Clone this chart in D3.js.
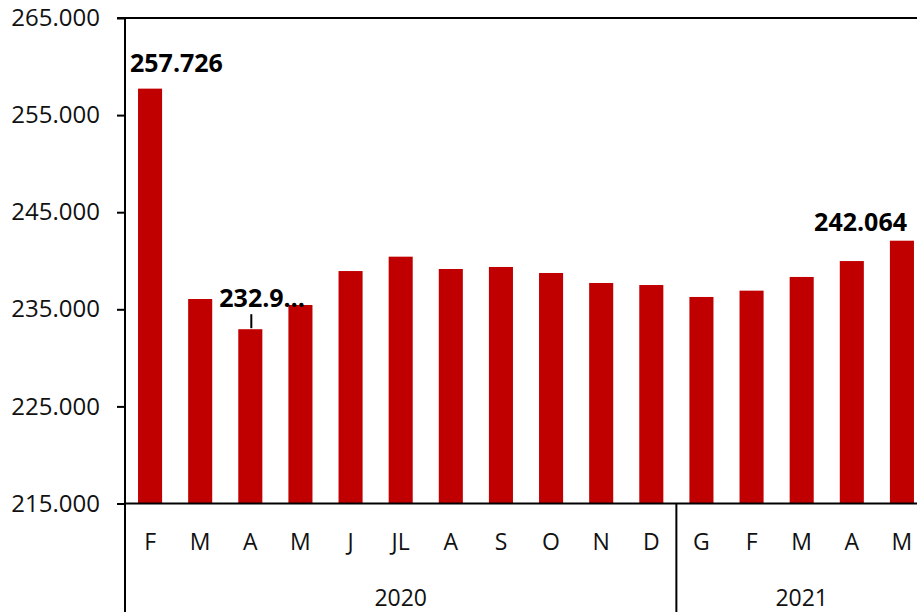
<!DOCTYPE html>
<html>
<meta charset="utf-8">
<title>bars</title>
<style>
html,body{ margin:0; background:#fff; }
svg { display:block; font-family:"Open Sans", sans-serif; }
.bar { fill:#C00000; }
.axisline { stroke:#000; stroke-width:2; fill:none; }
</style>
<script src="https://cdn.jsdelivr.net/npm/d3@7"></script>
<body>
<script>

var months = ["F","M","A","M","J","JL","A","S","O","N","D","G","F","M","A","M"];
var values = [257726,236060,232950,235440,238940,240420,239150,239360,238740,237710,237500,236270,236920,238330,239970,242064];
var years = ["2020","2021"];
var yearCounts = [11,5];
var tickValues = [215000,225000,235000,245000,255000,265000];
// labels shown on bars (index into values, text)
var labelIdx = [0, 2, 15];
var labelText = ["257.726", "232.9\u2026", "242.064"];

var width = 917, height = 612;
var plotLeft = 125, plotRight = 927, plotTop = 18, plotBottom = 503.5;

var it = d3.formatLocale({decimal:",", thousands:".", grouping:[3], currency:["","€"]});
var fmt = it.format(",.0f");

var svg = d3.select("body").append("svg")
    .attr("width", width)
    .attr("height", height);

var x = d3.scaleBand()
    .domain(d3.range(months.length))
    .range([plotLeft, plotRight])
    .paddingInner(0.52)
    .paddingOuter(0.26);

var y = d3.scaleLinear()
    .domain([215000, 265000])
    .range([plotBottom, plotTop]);

// bars
svg.append("g").selectAll("rect")
    .data(values)
  .enter().append("rect")
    .attr("class", "bar")
    .attr("x", function(d, i){ return x(i); })
    .attr("width", x.bandwidth())
    .attr("y", function(d){ return y(d); })
    .attr("height", function(d){ return y(215000) - y(d); });

// y axis
var yAxis = svg.append("g")
    .attr("transform", "translate(" + plotLeft + ",0)")
    .call(d3.axisLeft(y).tickValues(tickValues).tickFormat(fmt).tickSize(8).tickPadding(17));
yAxis.select(".domain").remove();
yAxis.selectAll(".tick line").attr("stroke", "#000").attr("stroke-width", 2);
yAxis.selectAll(".tick text")
    .attr("fill", "#111")
    .style("font-size", "24px")
    .style("font-family", "'Open Sans', sans-serif");

// axis lines
svg.append("line").attr("class", "axisline")
    .attr("x1", plotLeft).attr("x2", plotLeft).attr("y1", plotTop).attr("y2", height);
svg.append("line").attr("class", "axisline")
    .attr("x1", plotLeft - 8).attr("x2", width).attr("y1", plotTop).attr("y2", plotTop);
svg.append("line").attr("class", "axisline")
    .attr("x1", plotLeft).attr("x2", width).attr("y1", plotBottom).attr("y2", plotBottom);

// month labels
svg.append("g").selectAll("text")
    .data(months)
  .enter().append("text")
    .attr("x", function(d, i){ return x(i) + x.bandwidth() / 2; })
    .attr("y", 550)
    .attr("text-anchor", "middle")
    .attr("fill", "#111")
    .style("font-size", "23px")
    .text(function(d){ return d; });

// year groups
var start = 0;
years.forEach(function(yr, k){
  var end = start + yearCounts[k];
  var x0 = x(start) - x.step() * x.paddingOuter();
  var x1 = x(end - 1) + x.bandwidth() + x.step() * x.paddingOuter();
  if (k > 0) {
    svg.append("line").attr("class", "axisline")
        .attr("x1", x0).attr("x2", x0).attr("y1", plotBottom).attr("y2", height);
  }
  svg.append("text")
      .attr("x", (x0 + x1) / 2)
      .attr("y", 606)
      .attr("text-anchor", "middle")
      .attr("fill", "#111")
      .style("font-size", "23px")
      .text(yr);
  start = end;
});

// data labels
labelIdx.forEach(function(i, k){
  var cx = x(i) + x.bandwidth() / 2;
  var t = svg.append("text")
      .attr("fill", "#000")
      .style("font-size", "25px")
      .style("font-weight", "bold")
      .text(labelText[k]);
  if (k === 0) {
    t.attr("x", plotLeft + 5).attr("y", y(values[i]) - 17).attr("text-anchor", "start");
  } else if (k === 1) {
    t.attr("x", cx - 31).attr("y", y(values[i]) - 22).attr("text-anchor", "start");
    svg.append("line")
        .attr("x1", cx + 1).attr("x2", cx + 1)
        .attr("y1", y(values[i]) - 15).attr("y2", y(values[i]) - 1)
        .attr("stroke", "#000").attr("stroke-width", 2);
  } else {
    t.attr("x", width - 10).attr("y", y(values[i]) - 10).attr("text-anchor", "end");
  }
});

</script>
</body>
</html>
